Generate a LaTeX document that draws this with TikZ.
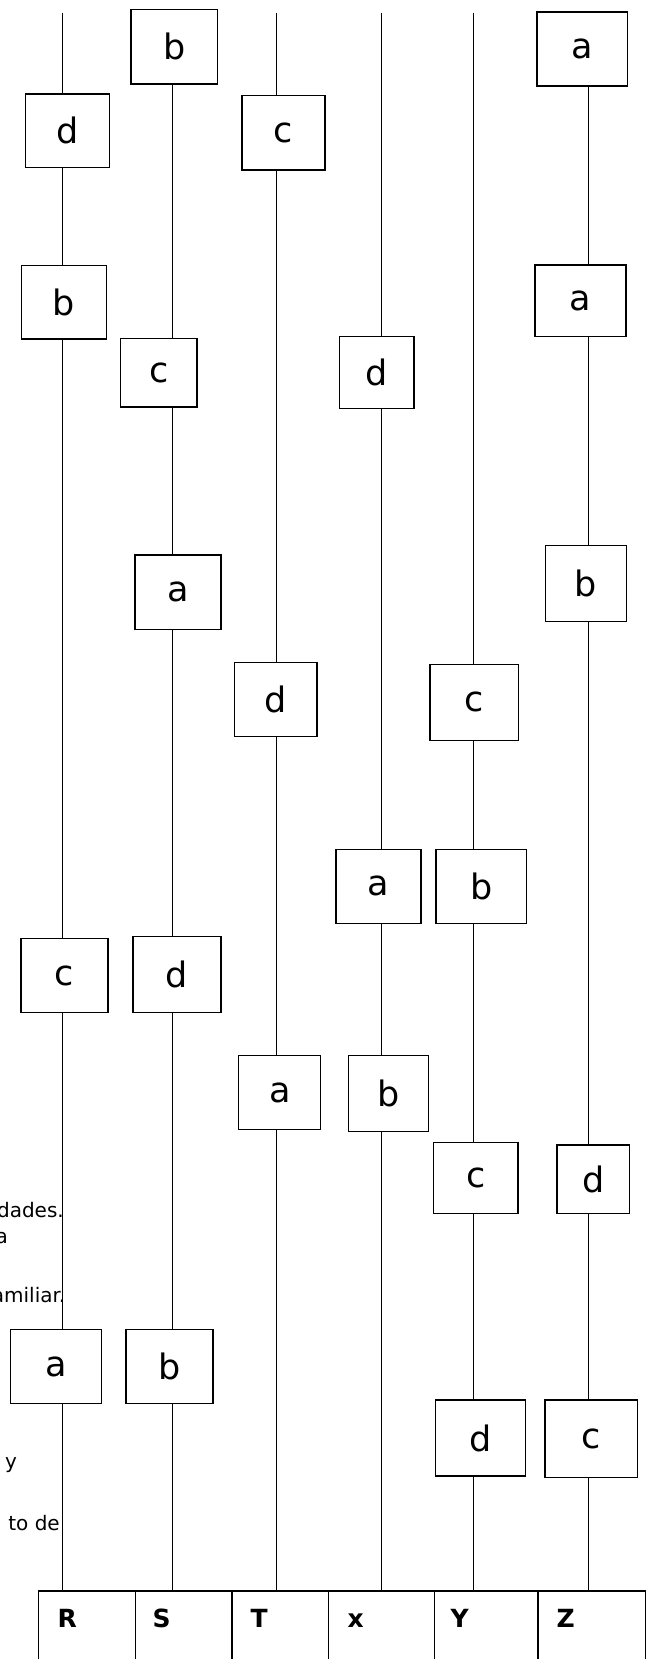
\documentclass[tikz,border=0pt]{standalone}
\usepackage{fontspec}
\setmainfont{DejaVu Sans}
\begin{document}
\begin{tikzpicture}[x=1pt,y=-1pt,
  lane/.style={line width=1pt,black},
  lbox/.style={draw=black,line width=1.2pt,fill=white,inner sep=0pt,
    font=\fontsize{35}{35}\selectfont},
  side/.style={inner sep=0pt,font=\fontsize{20}{20}\selectfont},
  head/.style={inner sep=0pt,anchor=base west,font=\fontsize{25}{25}\selectfont\bfseries},
  grid/.style={line width=1.2pt,black}]
\useasboundingbox (0,0) rectangle (650,1659);
\clip (0,0) rectangle (650,1659);
% lanes
\foreach \n/\x in {R/62.5,S/172,T/276,X/381.7,Y/473.7,Z/588.7}{
  \coordinate (\n top) at (\x,13.3);
  \coordinate (\n bot) at (\x,1591);
}
\draw[lane] (Rtop) -- (Rbot);
\draw[lane] (Stop) -- (Sbot);
\draw[lane] (Ttop) -- (Tbot);
\draw[lane] (Xtop) -- (Xbot);
\draw[lane] (Ytop) -- (Ybot);
\draw[lane] (Ztop) -- (Zbot);
% boxes lane R
\node[lbox,minimum width=84.2pt,minimum height=73.3pt] (R1) at (67.5,130.65) {d};
\node[lbox,minimum width=85pt,minimum height=73.7pt] (R2) at (63.8,302.15) {b};
\node[lbox,minimum width=87pt,minimum height=74pt] (R3) at (64.5,975.7) {c};
\node[lbox,minimum width=90.8pt,minimum height=74pt] (R4) at (55.8,1366.7) {a};
% lane S
\node[lbox,minimum width=86.5pt,minimum height=74.3pt] (S1) at (174.25,46.85) {b};
\node[lbox,minimum width=76.6pt,minimum height=68.3pt] (S2) at (158.7,372.85) {c};
\node[lbox,minimum width=86pt,minimum height=74.3pt] (S3) at (178,592.15) {a};
\node[lbox,minimum width=88pt,minimum height=76pt] (S4) at (177,974.7) {d};
\node[lbox,minimum width=87pt,minimum height=74pt] (S5) at (169.5,1366.7) {b};
% lane T
\node[lbox,minimum width=83pt,minimum height=74.3pt] (T1) at (283.5,132.85) {c};
\node[lbox,minimum width=82.4pt,minimum height=74pt] (T2) at (275.8,699.3) {d};
\node[lbox,minimum width=82pt,minimum height=74pt] (T3) at (279.8,1092.7) {a};
% lane x
\node[lbox,minimum width=74.4pt,minimum height=72pt] (X1) at (376.8,372.7) {d};
\node[lbox,minimum width=85pt,minimum height=74pt] (X2) at (378.5,886.3) {a};
\node[lbox,minimum width=80.4pt,minimum height=76pt] (X3) at (388.5,1093.7) {b};
% lane Y
\node[lbox,minimum width=88.7pt,minimum height=76pt] (Y1) at (474.4,702.3) {c};
\node[lbox,minimum width=90.7pt,minimum height=74pt] (Y2) at (481.35,886.3) {b};
\node[lbox,minimum width=84.2pt,minimum height=70.6pt] (Y3) at (475.9,1178) {c};
\node[lbox,minimum width=90.4pt,minimum height=76pt] (Y4) at (480.6,1438) {d};
% lane Z
\node[lbox,minimum width=90.3pt,minimum height=74pt] (Z1) at (582.15,49) {a};
\node[lbox,minimum width=91pt,minimum height=71.7pt] (Z2) at (580.5,300.85) {a};
\node[lbox,minimum width=80.4pt,minimum height=76pt] (Z3) at (586,583.3) {b};
\node[lbox,minimum width=72.6pt,minimum height=68.3pt] (Z4) at (593.3,1179.15) {d};
\node[lbox,minimum width=92.5pt,minimum height=77.3pt] (Z5) at (591.25,1438.65) {c};
% fragments of text on the left
\node[side,anchor=base east] (t1) at (64,1217) {dades.};
\node[side,anchor=base west] (t2) at (-4.5,1243) {a};
\node[side,anchor=base east] (t3) at (65.5,1302) {amiliar.};
\node[side,anchor=base west] (t4) at (5,1468) {y};
\node[side,anchor=base east] (t5) at (60,1530) {to de};
% table
\draw[grid] (38.5,1700) -- (38.5,1591) -- (645.8,1591) -- (645.8,1700);
\foreach \x in {135.2,232,328.75,434.6,538}{
  \draw[grid] (\x,1591) -- (\x,1700);
}
\node[head] (hR) at (57.5,1627.5) {R};
\node[head] (hS) at (152.5,1627.5) {S};
\node[head] (hT) at (250.5,1627.5) {T};
\node[head] (hX) at (347.5,1627.5) {x};
\node[head] (hY) at (450.5,1627.5) {Y};
\node[head] (hZ) at (556.5,1627.5) {Z};
\end{tikzpicture}
\end{document}
